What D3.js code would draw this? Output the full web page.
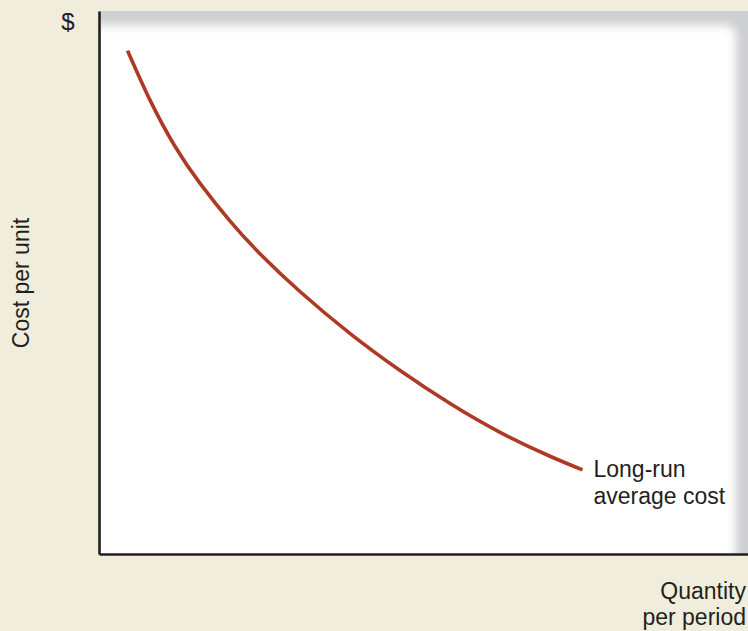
<!DOCTYPE html>
<html>
<head>
<meta charset="utf-8">
<script src="https://cdn.jsdelivr.net/npm/d3@7"></script>
<style>
html,body{margin:0;padding:0;background:#f0eddc;}
svg{display:block;}
text{font-family:"Liberation Sans",Arial,Helvetica,sans-serif;fill:#231f20;}
</style>
</head>
<body>
<svg id="chart" width="748" height="631"></svg>
<script>
// Data (abstract units: quantity 0-100, cost 0-100)
const quantity = [4.4, 7.9, 11.7, 15.6, 20.2, 24.8, 31.0, 38.7, 46.4, 54.1, 61.8, 69.5, 74.5];
const cost     = [92.7, 83.5, 75.1, 68.2, 61.3, 55.3, 48.3, 40.6, 33.8, 27.7, 22.4, 18.0, 15.5];
const curveLabel = ["Long-run", "average cost"];
const xLabel = ["Quantity", "per period"];
const yLabel = "Cost per unit";
const yUnit = "$";

const W = 748, H = 631;
const m = {left: 99, top: 11, right: 0, bottom: 77};
const svg = d3.select("#chart");
const defs = svg.append("defs");

const x = d3.scaleLinear().domain([0, 100]).range([m.left, W - m.right]);
const y = d3.scaleLinear().domain([0, 100]).range([H - m.bottom, m.top]);

// plot background with soft shaded top/right edges
defs.append("clipPath").attr("id", "plotclip")
  .append("rect").attr("x", m.left).attr("y", m.top)
  .attr("width", W - m.right - m.left).attr("height", H - m.bottom - m.top);
const f = defs.append("filter").attr("id", "soft")
  .attr("x", "-10%").attr("y", "-10%").attr("width", "120%").attr("height", "120%");
f.append("feGaussianBlur").attr("stdDeviation", 5);

const bg = svg.append("g").attr("clip-path", "url(#plotclip)");
bg.append("rect").attr("x", m.left).attr("y", m.top)
  .attr("width", W - m.right - m.left).attr("height", H - m.bottom - m.top)
  .attr("fill", "#cdced0");
bg.append("rect").attr("x", m.left - 60).attr("y", 25)
  .attr("width", 736 - (m.left - 60)).attr("height", 600)
  .attr("rx", 10).attr("fill", "#ffffff").attr("filter", "url(#soft)");

// curve
const line = d3.line().x((d, i) => x(quantity[i])).y(d => y(d)).curve(d3.curveNatural);
svg.append("path").datum(cost).attr("d", line)
  .attr("fill", "none").attr("stroke", "#ae3a26").attr("stroke-width", 3.6);

// axes
svg.append("g").attr("transform", `translate(0,${H - m.bottom})`)
  .call(d3.axisBottom(x).tickValues([]).tickSizeOuter(0));
svg.append("g").attr("transform", `translate(${m.left},0)`)
  .call(d3.axisLeft(y).tickValues([]).tickSizeOuter(0));
svg.selectAll(".domain").attr("stroke", "#231f20").attr("stroke-width", 2.6);

// labels
const fs = 23;
svg.append("text").attr("x", 68).attr("y", 30).attr("text-anchor", "middle")
  .attr("font-size", 24).text(yUnit);
svg.append("text").attr("transform", "translate(29,283) rotate(-90)")
  .attr("text-anchor", "middle").attr("font-size", fs).text(yLabel);
const lastI = quantity.length - 1;
svg.append("text").attr("font-size", fs)
  .selectAll("tspan").data(curveLabel).join("tspan")
  .attr("x", x(quantity[lastI]) + 11).attr("y", (d, i) => 477 + i * 27).text(d => d);
svg.append("text").attr("text-anchor", "end").attr("font-size", fs)
  .selectAll("tspan").data(xLabel).join("tspan")
  .attr("x", 746).attr("y", (d, i) => 599 + i * 26).text(d => d);
</script>
</body>
</html>
